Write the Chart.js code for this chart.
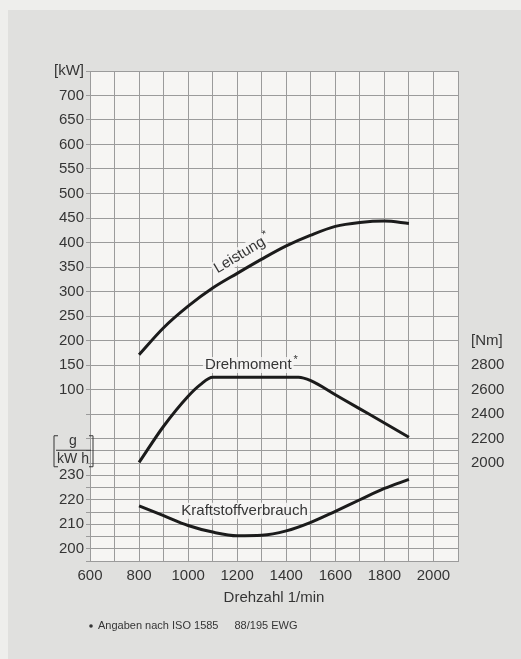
<!DOCTYPE html>
<html>
<head>
<meta charset="utf-8">
<title>Motorkennlinien</title>
<script src="https://cdn.jsdelivr.net/npm/chart.js@4.4.1/dist/chart.umd.min.js"></script>
<style>
  html, body { margin: 0; padding: 0; background: #eeeeec; }
  canvas { display: block; }
</style>
</head>
<body>
<canvas id="myChart" width="521" height="659"></canvas>
<script>
// Drehzahl in 1/min
const drehzahl = [800, 900, 1000, 1100, 1200, 1300, 1400, 1500, 1600, 1700, 1800, 1900];
// Leistung in kW
const leistung = [171, 226, 270, 307, 337, 366, 393, 415, 433, 441, 444, 439];
// Kraftstoffverbrauch in g/kWh
const verbrauch = [217.5, 213.5, 209.5, 206.8, 205.3, 205.5, 207.3, 210.8, 215.3, 220, 224.6, 228.3];
// Drehmoment in Nm (eigene Drehzahlpunkte wegen der Ecken)
const drehzahlMoment = [800, 900, 1000, 1050, 1100, 1200, 1300, 1400, 1450, 1500, 1600, 1700, 1800, 1900];
const drehmoment = [2005, 2300, 2545, 2640, 2700, 2700, 2700, 2700, 2700, 2672, 2557, 2442, 2327, 2210];

// Achsbeschriftungen
const xTicks = [600, 800, 1000, 1200, 1400, 1600, 1800, 2000];
const kwTicks = [100, 150, 200, 250, 300, 350, 400, 450, 500, 550, 600, 650, 700];
const gTicks = [200, 210, 220, 230];
const nmTicks = [2000, 2200, 2400, 2600, 2800];

// Achsbereiche
const xMin = 600, xMax = 2100;
const kwMin = -250, kwMax = 750;
const gMin = 195, gMax = 395;
const nmMin = 1200, nmMax = 5200;

const gridFarbe = '#9b9b9b';
const textFarbe = '#353535';
const linienFarbe = '#1b1b1b';
const schrift = "'Liberation Sans', Arial, sans-serif";

function punkte(xs, ys) {
    return xs.map((x, i) => ({ x: x, y: ys[i] }));
}

//fondo: seite, grauer rahmen, diagrammflaeche
const fondo = {
    id: 'fondo',
    beforeDraw(chart) {
        const ctx = chart.ctx;
        const a = chart.chartArea;
        ctx.save();
        ctx.fillStyle = '#eeeeec';
        ctx.fillRect(0, 0, chart.width, chart.height);
        ctx.fillStyle = '#e0e0de';
        ctx.fillRect(8, 10, chart.width - 8, chart.height - 10);
        ctx.fillStyle = '#f6f5f3';
        ctx.fillRect(a.left, a.top, a.right - a.left, a.bottom - a.top);
        ctx.restore();
    }
};

function etikett(ctx, text, x, y, winkel) {
    ctx.save();
    ctx.translate(x, y);
    ctx.rotate(winkel);
    ctx.font = '15px ' + schrift;
    const w = ctx.measureText(text).width;
    ctx.fillStyle = 'rgba(246,245,243,0.85)';
    ctx.fillRect(-w / 2 - 2, -8, w + 4, 16);
    ctx.fillStyle = textFarbe;
    ctx.textAlign = 'center';
    ctx.textBaseline = 'middle';
    ctx.fillText(text, 0, 0);
    // stern
    ctx.font = '11px ' + schrift;
    ctx.textAlign = 'left';
    if (text !== 'Kraftstoffverbrauch') ctx.fillText('*', w / 2 + 2, -5);
    ctx.restore();
}

const texte = {
    id: 'texte',
    afterDatasetsDraw(chart) {
        const ctx = chart.ctx;
        const s = chart.scales;
        const a = chart.chartArea;

        etikett(ctx, 'Leistung', s.x.getPixelForValue(1210), s.yKW.getPixelForValue(374), -31 * Math.PI / 180);
        etikett(ctx, 'Drehmoment', s.x.getPixelForValue(1245), s.yNm.getPixelForValue(2800), 0);
        etikett(ctx, 'Kraftstoffverbrauch', s.x.getPixelForValue(1230), s.yG.getPixelForValue(215.5), 0);

        // Einheit g/kWh als Bruch
        const cx = a.left - 17;
        const cy = s.yKW.getPixelForValue(-25);
        ctx.save();
        ctx.fillStyle = textFarbe;
        ctx.strokeStyle = textFarbe;
        ctx.lineWidth = 1;
        ctx.font = '14px ' + schrift;
        ctx.textAlign = 'center';
        ctx.textBaseline = 'middle';
        ctx.fillText('g', cx, cy - 10);
        ctx.fillText('kW h', cx, cy + 8);
        ctx.beginPath();
        ctx.moveTo(cx - 17, cy - 0.5);
        ctx.lineTo(cx + 18, cy - 0.5);
        ctx.stroke();
        // eckige klammern
        ctx.beginPath();
        ctx.moveTo(cx - 15, cy - 15);
        ctx.lineTo(cx - 19, cy - 15);
        ctx.lineTo(cx - 19, cy + 16);
        ctx.lineTo(cx - 15, cy + 16);
        ctx.moveTo(cx + 16, cy - 15);
        ctx.lineTo(cx + 20, cy - 15);
        ctx.lineTo(cx + 20, cy + 16);
        ctx.lineTo(cx + 16, cy + 16);
        ctx.stroke();
        ctx.restore();

        // Fussnote
        ctx.save();
        ctx.fillStyle = textFarbe;
        ctx.font = '11px ' + schrift;
        ctx.textBaseline = 'middle';
        ctx.textAlign = 'left';
        const fy = chart.height - 33;
        ctx.beginPath();
        ctx.arc(a.left + 1, fy, 1.8, 0, Math.PI * 2);
        ctx.fill();
        const t1 = 'Angaben nach ISO 1585';
        ctx.fillText(t1, a.left + 8, fy);
        ctx.fillText('88/195 EWG', a.left + 8 + ctx.measureText(t1).width + 16, fy);
        ctx.restore();
    }
};

const ctx = document.querySelector('#myChart').getContext('2d');

const data = {
    datasets: [{
        label: 'Leistung',
        data: punkte(drehzahl, leistung),
        yAxisID: 'yKW'
    }, {
        label: 'Drehmoment',
        data: punkte(drehzahlMoment, drehmoment),
        yAxisID: 'yNm'
    }, {
        label: 'Kraftstoffverbrauch',
        data: punkte(drehzahl, verbrauch),
        yAxisID: 'yG'
    }]
};

const chart = new Chart(ctx, {
    type: 'line',
    data: data,
    plugins: [fondo, texte],
    options: {
        responsive: false,
        animation: false,
        devicePixelRatio: 1,
        layout: { padding: { left: 0, right: 0, top: 71, bottom: 48 } },
        elements: {
            point: { radius: 0 },
            line: {
                borderColor: linienFarbe,
                borderWidth: 3,
                cubicInterpolationMode: 'monotone',
                fill: false
            }
        },
        plugins: {
            legend: { display: false },
            tooltip: { enabled: false }
        },
        scales: {
            x: {
                type: 'linear',
                min: xMin,
                max: xMax,
                afterFit: (scale) => { scale.height = 50; },
                ticks: {
                    stepSize: 100,
                    autoSkip: false,
                    maxRotation: 0,
                    padding: 6,
                    color: textFarbe,
                    font: { size: 15, family: schrift },
                    callback: (v) => xTicks.includes(v) ? v : ''
                },
                grid: { color: gridFarbe, drawTicks: false },
                border: { color: gridFarbe },
                title: {
                    display: true,
                    text: 'Drehzahl 1/min',
                    color: textFarbe,
                    font: { size: 15, family: schrift },
                    padding: { top: 0, bottom: 4 }
                }
            },
            yKW: {
                type: 'linear',
                position: 'left',
                min: kwMin,
                max: kwMax,
                afterFit: (scale) => { scale.width = 90; },
                ticks: {
                    stepSize: 25,
                    autoSkip: false,
                    padding: 2,
                    color: textFarbe,
                    font: { size: 15, family: schrift },
                    callback: function (v) {
                        if (v === kwMax) return '[kW]';
                        if (kwTicks.includes(v)) return v;
                        if (v < 0) {
                            const g = Math.round(gMin + (v - kwMin) * (gMax - gMin) / (kwMax - kwMin));
                            if (gTicks.includes(g)) return g;
                        }
                        return '';
                    }
                },
                grid: {
                    tickLength: 4,
                    color: (c) => (c.tick && c.tick.value > 0 && c.tick.value % 50 !== 0) ? 'rgba(0,0,0,0)' : gridFarbe
                },
                border: { color: gridFarbe }
            },
            yNm: {
                type: 'linear',
                position: 'right',
                min: nmMin,
                max: nmMax,
                afterFit: (scale) => { scale.width = 63; },
                ticks: {
                    stepSize: 200,
                    autoSkip: false,
                    padding: 5,
                    color: textFarbe,
                    font: { size: 15, family: schrift },
                    callback: (v) => v === 3000 ? '[Nm]' : (nmTicks.includes(v) ? v : '')
                },
                grid: { display: false },
                border: { display: false }
            },
            yG: {
                type: 'linear',
                display: false,
                min: gMin,
                max: gMax
            }
        }
    }
});
</script>
</body>
</html>
